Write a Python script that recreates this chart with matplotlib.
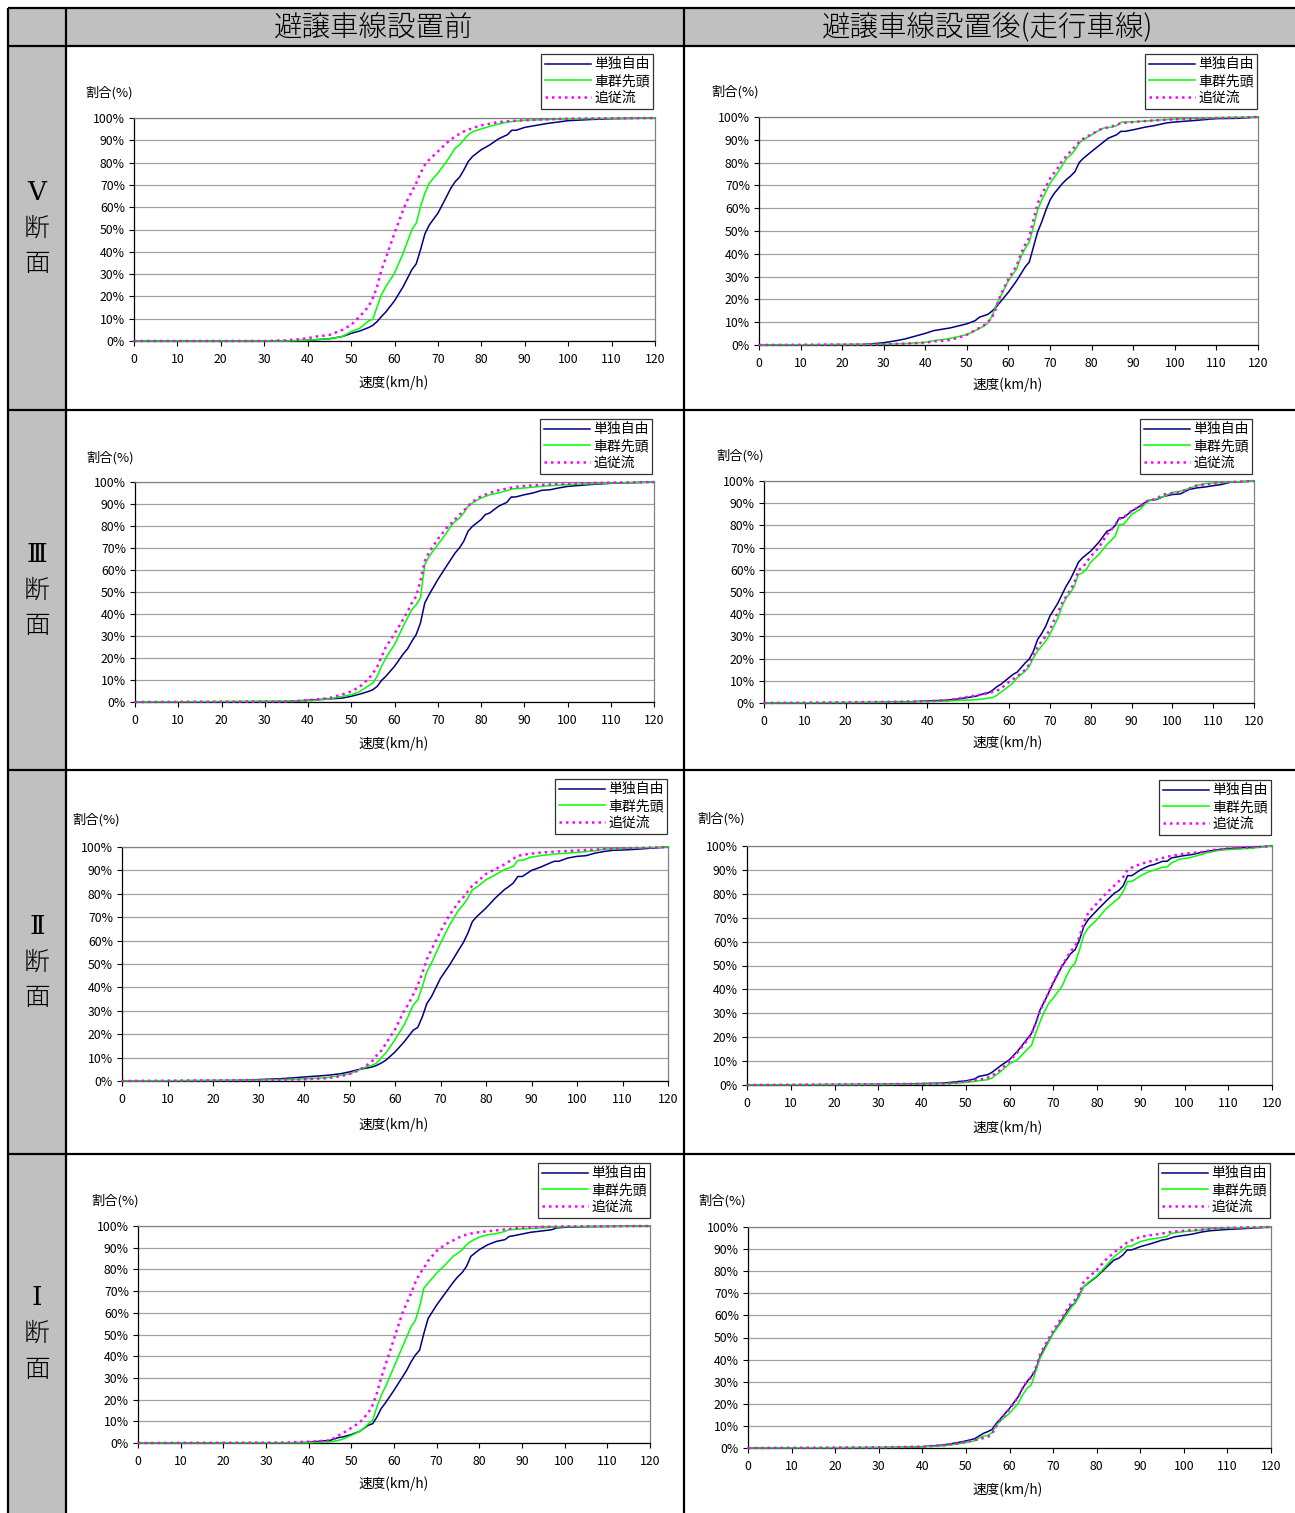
import matplotlib
matplotlib.use("Agg")
import matplotlib.pyplot as plt
from matplotlib.patches import Rectangle

plt.rcParams['font.family'] = ['Noto Sans CJK JP', 'DejaVu Sans']

# ---------------- DATA (speed km/h, cumulative share %) ----------------
series_names = ["単独自由", "車群先頭", "追従流"]
column_titles = ["避譲車線設置前", "避譲車線設置後(走行車線)"]
row_numerals = ["Ⅴ", "Ⅲ", "Ⅱ", "Ⅰ"]
row_suffix = ["断", "面"]
x_ticks = [0, 10, 20, 30, 40, 50, 60, 70, 80, 90, 100, 110, 120]
y_ticks = [0, 10, 20, 30, 40, 50, 60, 70, 80, 90, 100]
y_tick_labels = [f"{v}%" for v in y_ticks]

# V section, before
v_pre_solo_x = [0, 35, 40, 45, 48, 50, 52, 54, 55, 56, 57, 58, 60, 62, 64, 65, 66, 67, 68, 70, 72, 73, 74, 75, 76, 77, 78, 80, 82, 84, 86, 87, 88, 90, 95, 100, 105, 110, 120]
v_pre_solo_y = [0, 0, 0.3, 1, 2, 3.4, 4.5, 6, 7, 8.7, 11, 13, 18, 24.4, 32, 34.6, 41, 48, 52, 57.3, 64.8, 68.6, 71.5, 73.5, 76.8, 80.5, 82.8, 85.8, 88, 90.7, 92.5, 94.5, 94.5, 95.8, 97.5, 98.8, 99.3, 99.7, 100]
v_pre_lead_x = [0, 35, 40, 45, 48, 50, 52, 54, 55, 56, 57, 58, 60, 62, 64, 65, 66, 67, 68, 70, 72, 74, 75, 76, 77, 78, 80, 82, 84, 86, 90, 95, 100, 110, 120]
v_pre_lead_y = [0, 0, 0.4, 1, 2, 4.2, 5.7, 9, 9.7, 15.4, 20.7, 24.4, 30.4, 39.4, 49.9, 52.8, 60.3, 66.3, 70.8, 75.3, 80.5, 86.5, 88, 90.3, 92.5, 93.9, 95.1, 96.3, 97.3, 98.2, 99, 99.3, 99.6, 99.9, 100]
v_pre_follow_x = [0, 30, 35, 38, 40, 42, 45, 48, 50, 52, 54, 55, 56, 57, 58, 60, 62, 63, 64, 65, 66, 67, 68, 70, 72, 74, 76, 78, 80, 84, 88, 95, 100, 120]
v_pre_follow_y = [0, 0, 0.3, 0.8, 1.2, 2, 2.7, 5, 7.2, 11, 15.4, 19.2, 24.4, 31.9, 37.1, 48.4, 58.8, 63.3, 67, 70.8, 75.3, 79, 81.3, 85, 88.8, 91.8, 94, 95.5, 96.7, 98.2, 98.8, 99.4, 99.7, 100]

# V section, after
v_post_solo_x = [0, 25, 30, 33, 35, 38, 40, 42, 44, 46, 48, 50, 52, 53, 55, 56, 57, 58, 60, 62, 64, 65, 66, 67, 68, 69, 70, 71, 72, 73, 74, 75, 76, 77, 78, 80, 82, 84, 86, 87, 88, 90, 93, 95, 98, 100, 105, 110, 115, 120]
v_post_solo_y = [0, 0.2, 1, 1.9, 2.6, 4.1, 5.1, 6.3, 6.9, 7.5, 8.4, 9.3, 10.7, 12.2, 13.4, 14.8, 16.6, 18.8, 23.2, 28.3, 34.2, 36.4, 43, 49.6, 54, 59.2, 63.6, 66.5, 68.7, 70.9, 72.7, 74.2, 76.1, 80, 81.9, 84.9, 87.8, 90.7, 92.2, 93.7, 93.7, 94.4, 95.6, 96.2, 97.4, 97.8, 98.5, 99.3, 99.4, 100]
v_post_lead_x = [0, 30, 35, 40, 42, 45, 48, 50, 52, 54, 55, 56, 57, 58, 60, 62, 63, 64, 65, 66, 67, 68, 70, 72, 73, 74, 75, 76, 77, 78, 80, 82, 83, 85, 86, 87, 90, 95, 100, 110, 120]
v_post_lead_y = [0, 0.3, 0.6, 1.2, 1.9, 2.6, 3.7, 4.6, 6.3, 8.2, 9.5, 12.5, 17.3, 21, 28.3, 33.5, 38.6, 42.3, 45.2, 51.8, 59.2, 63.6, 70.9, 76.1, 79, 81.9, 83.4, 85.6, 88.5, 90, 92.2, 94.4, 95.2, 95.6, 96.2, 97.7, 97.9, 98.5, 99.1, 99.7, 100]
v_post_follow_x = [0, 30, 35, 40, 42, 45, 48, 50, 52, 54, 55, 56, 57, 58, 60, 62, 63, 64, 65, 66, 67, 68, 70, 72, 73, 74, 76, 77, 78, 80, 82, 84, 86, 87, 90, 95, 100, 110, 120]
v_post_follow_y = [0, 0.3, 0.6, 1.0, 1.6, 1.9, 3.2, 4.5, 6.5, 8.5, 10, 12, 16, 21.5, 29, 35, 40, 44, 47, 55, 62, 66, 73, 78, 81, 83, 87, 89, 90.5, 92.5, 94.5, 95.5, 96.5, 97.3, 97.8, 98.5, 99, 99.5, 100]

# III section, before
iii_pre_solo_x = [0, 35, 40, 45, 48, 50, 52, 54, 55, 56, 57, 58, 60, 62, 63, 64, 65, 66, 67, 68, 70, 72, 74, 75, 76, 77, 78, 80, 81, 82, 84, 86, 87, 88, 90, 92, 94, 96, 98, 100, 105, 110, 120]
iii_pre_solo_y = [0, 0.2, 0.8, 1.4, 1.8, 2.6, 3.6, 4.8, 5.6, 7.1, 9.8, 11.7, 16.2, 21.8, 24.1, 27.6, 30.6, 35.9, 45, 48.8, 55.6, 61.7, 67.7, 70, 73, 77.6, 79.8, 82.9, 85.2, 85.9, 88.9, 90.8, 93.2, 93.2, 94.2, 95, 96.2, 96.5, 97.3, 98, 98.8, 99.4, 100]
iii_pre_lead_x = [0, 40, 45, 48, 50, 52, 54, 55, 56, 57, 58, 60, 62, 63, 64, 65, 66, 67, 68, 70, 72, 73, 74, 75, 76, 77, 78, 80, 82, 84, 86, 87, 90, 95, 100, 110, 120]
iii_pre_lead_y = [0, 0.5, 1.4, 2.6, 3.3, 4.8, 7.4, 8.6, 11.7, 16.2, 20, 26.1, 34.4, 38.2, 42, 44.2, 47.3, 62.4, 66.2, 71.5, 76.8, 79.8, 82.1, 83.6, 85.9, 88.9, 90.5, 92.7, 94.2, 95, 96.1, 96.8, 97.3, 98.2, 98.8, 99.5, 100]
iii_pre_follow_x = [0, 35, 40, 45, 48, 50, 52, 54, 55, 56, 57, 58, 60, 62, 63, 64, 65, 66, 67, 68, 70, 72, 74, 76, 78, 80, 82, 84, 86, 88, 90, 95, 100, 110, 120]
iii_pre_follow_y = [0, 0.2, 0.8, 1.8, 3.5, 4.8, 7, 10.5, 13, 16, 20.5, 25, 31, 37.5, 41, 45, 48, 55, 64, 68, 74, 79, 83, 87, 91, 93.5, 95, 96.2, 97, 97.8, 98.2, 98.8, 99.2, 99.7, 100]

# III section, after
iii_post_solo_x = [0, 25, 30, 35, 40, 45, 48, 50, 52, 54, 55, 56, 57, 58, 60, 61, 62, 64, 65, 66, 67, 68, 69, 70, 71, 72, 73, 74, 75, 76, 77, 78, 80, 82, 84, 85, 86, 87, 88, 90, 92, 94, 96, 98, 100, 102, 104, 106, 108, 110, 112, 114, 117, 120]
iii_post_solo_y = [0, 0.2, 0.4, 0.5, 0.9, 1.3, 1.9, 2.5, 3.1, 4.3, 4.6, 5.8, 7.3, 8.4, 11.4, 12.9, 13.9, 18.1, 19.9, 23.4, 28.6, 31.3, 34.6, 39.1, 42.1, 45.1, 48.9, 52.6, 55.6, 59.4, 63.4, 65.4, 68.4, 72.4, 77.4, 78.1, 79.9, 83.4, 83.4, 86.4, 88.6, 91.2, 91.6, 93.1, 93.9, 94.2, 96.1, 96.9, 97.3, 97.9, 98.4, 99.4, 99.7, 100]
iii_post_lead_x = [0, 30, 40, 45, 48, 50, 52, 54, 55, 56, 57, 58, 60, 61, 62, 64, 65, 66, 67, 68, 69, 70, 71, 72, 73, 74, 75, 76, 77, 78, 79, 80, 82, 83, 84, 86, 87, 88, 89, 90, 92, 94, 96, 98, 100, 102, 104, 106, 108, 110, 115, 120]
iii_post_lead_y = [0, 0.3, 0.6, 0.9, 1.2, 1.3, 1.5, 1.9, 2.2, 2.5, 3.4, 4.9, 7.6, 9.1, 11.4, 14.4, 16.6, 20.4, 23.4, 25.6, 27.9, 30.9, 34.6, 38.4, 43.6, 47.4, 49.6, 52.6, 57.9, 58.6, 60.4, 63.4, 66.9, 69.1, 71.4, 75.1, 80.4, 80.4, 82.6, 84.9, 87.1, 90.9, 91.9, 93.1, 94.9, 95.4, 96.6, 97.9, 98.8, 99.1, 99.6, 100]
iii_post_follow_x = [0, 30, 40, 45, 48, 50, 52, 54, 55, 56, 57, 58, 60, 62, 64, 65, 66, 67, 68, 69, 70, 71, 72, 73, 74, 75, 76, 77, 78, 80, 82, 84, 85, 86, 87, 88, 90, 92, 94, 96, 98, 100, 102, 104, 106, 110, 114, 120]
iii_post_follow_y = [0, 0.5, 0.8, 1.3, 2.2, 2.8, 3.5, 4, 4.5, 5, 5.5, 6.5, 9.5, 12, 15, 17.5, 22, 25, 28, 30, 33, 37, 41, 45, 48, 51, 54, 60, 61, 66, 70, 76, 78, 80, 83, 83.5, 86.5, 88.5, 91, 92, 94, 94.5, 95, 96.5, 98, 98.8, 99.5, 100]

# II section, before
ii_pre_solo_x = [0, 25, 30, 35, 40, 42, 45, 48, 50, 52, 54, 55, 56, 57, 58, 60, 62, 64, 65, 66, 67, 68, 70, 72, 74, 75, 76, 77, 78, 80, 82, 84, 85, 86, 87, 88, 90, 92, 94, 95, 96, 98, 100, 102, 104, 106, 108, 110, 112, 115, 120]
ii_pre_solo_y = [0, 0.2, 0.6, 1, 1.7, 2, 2.4, 3.1, 3.9, 4.9, 5.6, 6, 6.7, 7.7, 8.9, 12.4, 16.7, 21.7, 22.9, 27.4, 33.1, 36, 43.9, 49.6, 56, 59.1, 63.1, 68.1, 70.3, 73.9, 78.1, 81.7, 83.1, 84.6, 87.4, 87.4, 90, 91.4, 93.1, 93.9, 93.9, 95.3, 96, 96.3, 97.4, 98.1, 98.6, 98.7, 98.9, 99.3, 100]
ii_pre_lead_x = [0, 30, 35, 40, 45, 48, 50, 52, 54, 55, 56, 57, 58, 60, 62, 63, 64, 65, 66, 67, 68, 70, 72, 74, 75, 76, 77, 78, 80, 82, 84, 86, 87, 88, 90, 92, 95, 98, 100, 104, 106, 110, 115, 120]
ii_pre_lead_y = [0, 0.4, 0.6, 0.9, 1.4, 2.4, 3.1, 4.6, 6.3, 6.7, 7.7, 10, 12, 17.7, 23.9, 28.1, 32.4, 34.6, 40.3, 46.7, 50.3, 58.9, 66.7, 73.1, 75.3, 78.1, 81.7, 82.9, 86, 88.1, 90.3, 91.7, 94.3, 94.3, 95.7, 96.3, 97, 97.4, 97.7, 98.4, 99.1, 99.4, 99.7, 100]
ii_pre_follow_x = [0, 30, 35, 40, 45, 48, 50, 52, 54, 55, 56, 57, 58, 60, 62, 63, 64, 65, 66, 67, 68, 70, 72, 74, 75, 76, 77, 78, 80, 82, 84, 86, 87, 88, 90, 92, 95, 100, 105, 110, 120]
ii_pre_follow_y = [0, 0.4, 0.5, 0.7, 1.2, 2.0, 3.0, 4.5, 7, 8.5, 11, 13, 16, 22, 30, 33, 37, 41, 46, 52, 56, 64, 71, 76.5, 78.5, 81, 83.5, 85, 88.5, 90.5, 92.5, 95, 96.2, 96.6, 97.2, 97.6, 98, 98.5, 99, 99.4, 100]

# II section, after
ii_post_solo_x = [0, 30, 35, 40, 45, 48, 50, 52, 53, 55, 56, 57, 58, 60, 62, 64, 65, 66, 67, 68, 70, 72, 74, 75, 76, 77, 78, 80, 82, 84, 85, 86, 87, 88, 90, 92, 93, 95, 96, 97, 99, 100, 102, 104, 106, 108, 110, 115, 120]
ii_post_solo_y = [0, 0.3, 0.4, 0.6, 0.8, 1.4, 1.7, 2.5, 3.6, 4.3, 5.3, 6.7, 8.1, 10.6, 14.5, 19.2, 21.5, 25.9, 31.5, 35, 42.7, 49.7, 55, 56.6, 60.8, 66.4, 69.2, 73.1, 76.8, 80.3, 81.4, 83.4, 87.6, 87.6, 90.1, 91.8, 92.2, 93.6, 93.6, 95, 95.7, 96, 96.5, 97.4, 98, 98.5, 98.9, 99.4, 100]
ii_post_lead_x = [0, 30, 40, 45, 48, 50, 52, 54, 55, 56, 57, 58, 60, 61, 62, 64, 65, 66, 67, 68, 69, 70, 72, 73, 74, 75, 76, 77, 78, 80, 82, 84, 85, 86, 87, 88, 90, 92, 93, 95, 96, 97, 99, 101, 103, 105, 108, 110, 115, 120]
ii_post_lead_y = [0, 0.2, 0.4, 0.5, 0.8, 1.1, 1.5, 2, 2.2, 2.9, 4.3, 5.7, 8.9, 9.8, 10.9, 14.8, 16.5, 21.8, 26.6, 30.8, 34.3, 36.4, 41.3, 45.5, 49, 51, 56.6, 62.9, 65.7, 69.2, 73.6, 76.8, 78.2, 81, 85.2, 85.2, 87.6, 89.4, 89.8, 91.2, 91.2, 92.9, 94.6, 95, 96, 97.1, 98.2, 98.5, 99, 100]
ii_post_follow_x = [0, 30, 40, 45, 48, 50, 52, 54, 55, 56, 57, 58, 60, 62, 64, 65, 66, 67, 68, 70, 72, 74, 75, 76, 77, 78, 80, 82, 84, 86, 87, 88, 90, 92, 94, 96, 98, 100, 104, 106, 110, 115, 120]
ii_post_follow_y = [0, 0.3, 0.5, 0.6, 1.0, 1.5, 2.0, 2.5, 3.0, 4.0, 5.0, 6.5, 10, 14, 18.5, 21, 26, 31, 35, 43, 50, 56, 58, 62, 68, 72, 76, 80, 83.5, 87, 90, 91, 92.5, 93.5, 94.5, 95.5, 96.2, 96.8, 97.5, 98.2, 99, 99.4, 100]

# I section, before
i_pre_solo_x = [0, 35, 40, 43, 45, 47, 48, 50, 52, 54, 55, 56, 57, 58, 60, 62, 63, 64, 65, 66, 67, 68, 70, 72, 74, 75, 76, 77, 78, 80, 82, 84, 86, 87, 88, 90, 92, 95, 97, 98, 100, 105, 120]
i_pre_solo_y = [0, 0.1, 0.3, 0.9, 1.2, 2.5, 2.8, 3.9, 5.4, 8.2, 8.9, 12, 15.9, 18.5, 24.3, 30.5, 33.6, 37.4, 40.5, 42.8, 50.5, 57.4, 63.6, 69, 74.4, 76.7, 78.6, 81.4, 86, 89.1, 91.4, 92.9, 93.7, 95.2, 95.5, 96.3, 97.1, 97.8, 98.3, 99.1, 99.4, 99.7, 100]
i_pre_lead_x = [0, 40, 45, 47, 48, 50, 52, 53, 54, 55, 56, 57, 58, 60, 62, 63, 64, 65, 66, 67, 68, 70, 72, 74, 75, 76, 77, 78, 80, 82, 84, 86, 87, 90, 95, 100, 120]
i_pre_lead_y = [0, 0.1, 0.5, 1.2, 1.8, 3.5, 5.4, 6.9, 8.9, 10.5, 16.6, 22, 25.9, 35.1, 44.4, 49, 53.6, 56.4, 62.9, 71.3, 73.7, 78.3, 82.1, 86.3, 87.5, 89.1, 91.4, 92.9, 94.9, 96, 96.5, 97.5, 98.3, 98.6, 99.2, 99.7, 100]
i_pre_follow_x = [0, 35, 38, 40, 42, 45, 47, 48, 50, 52, 54, 55, 56, 57, 58, 60, 62, 64, 65, 66, 67, 68, 70, 72, 74, 76, 78, 80, 84, 88, 90, 95, 100, 120]
i_pre_follow_y = [0, 0.2, 0.5, 0.6, 0.8, 1.2, 3.5, 4.5, 7, 9.5, 14, 17.5, 23, 30, 36, 48, 60, 69, 74, 78, 80.6, 84, 88.5, 91.5, 93.5, 95.5, 96.5, 97.2, 98, 98.8, 99.2, 99.6, 99.8, 100]

# I section, after
i_post_solo_x = [0, 30, 35, 40, 45, 48, 50, 52, 53, 54, 55, 56, 57, 58, 60, 62, 63, 64, 65, 66, 67, 68, 70, 72, 74, 75, 76, 77, 78, 80, 82, 84, 85, 86, 87, 88, 90, 92, 94, 95, 96, 98, 100, 102, 104, 106, 108, 110, 115, 120]
i_post_solo_y = [0, 0.2, 0.3, 0.6, 1.4, 2.4, 3.2, 4.2, 5.4, 6.6, 7.4, 8.4, 11.2, 13.4, 17.9, 23.2, 27, 30, 32.3, 35.3, 41.3, 45.1, 51.9, 57.9, 64, 65.5, 69.2, 73, 74.5, 77.5, 81.3, 85.1, 85.8, 87.3, 89.6, 89.6, 91.1, 92.2, 93.4, 94.1, 94.4, 95.6, 96.2, 96.8, 97.7, 98.3, 98.6, 98.9, 99.4, 100]
i_post_lead_x = [0, 30, 40, 45, 48, 50, 52, 53, 54, 55, 56, 57, 58, 60, 62, 63, 64, 65, 66, 67, 68, 70, 72, 74, 75, 76, 77, 78, 80, 82, 84, 85, 86, 87, 88, 90, 92, 95, 96, 97, 100, 104, 106, 110, 120]
i_post_lead_y = [0, 0.2, 0.5, 1.0, 1.8, 2.4, 3.3, 4.5, 5.4, 5.7, 6.9, 10.4, 12.4, 15.7, 20.2, 24, 27, 28.5, 34.5, 40.6, 44.3, 51.9, 57.2, 63.2, 65.5, 68.5, 73, 74.8, 77.8, 82.1, 86.6, 88.1, 89.6, 91.4, 91.4, 93.4, 94.4, 95.3, 95.6, 97.1, 97.9, 98.6, 99.2, 99.5, 100]
i_post_follow_x = [0, 30, 40, 45, 48, 50, 52, 54, 55, 56, 57, 58, 60, 62, 63, 64, 65, 66, 67, 68, 70, 72, 74, 75, 76, 77, 78, 80, 82, 84, 86, 87, 88, 90, 92, 95, 96, 98, 100, 104, 106, 110, 120]
i_post_follow_y = [0, 0.3, 0.6, 1.3, 2.0, 2.8, 3.5, 4.5, 5, 6.5, 10, 13, 17.5, 23, 27, 30, 32, 36, 42, 46, 53, 59, 65, 67, 70, 75, 77, 80.5, 85, 88.5, 91.5, 93, 94, 95.5, 96.2, 97, 97.5, 98, 98.3, 98.8, 99.3, 99.6, 100]

chart_data = [
    [[(v_pre_solo_x, v_pre_solo_y), (v_pre_lead_x, v_pre_lead_y), (v_pre_follow_x, v_pre_follow_y)],
     [(v_post_solo_x, v_post_solo_y), (v_post_lead_x, v_post_lead_y), (v_post_follow_x, v_post_follow_y)]],
    [[(iii_pre_solo_x, iii_pre_solo_y), (iii_pre_lead_x, iii_pre_lead_y), (iii_pre_follow_x, iii_pre_follow_y)],
     [(iii_post_solo_x, iii_post_solo_y), (iii_post_lead_x, iii_post_lead_y), (iii_post_follow_x, iii_post_follow_y)]],
    [[(ii_pre_solo_x, ii_pre_solo_y), (ii_pre_lead_x, ii_pre_lead_y), (ii_pre_follow_x, ii_pre_follow_y)],
     [(ii_post_solo_x, ii_post_solo_y), (ii_post_lead_x, ii_post_lead_y), (ii_post_follow_x, ii_post_follow_y)]],
    [[(i_pre_solo_x, i_pre_solo_y), (i_pre_lead_x, i_pre_lead_y), (i_pre_follow_x, i_pre_follow_y)],
     [(i_post_solo_x, i_post_solo_y), (i_post_lead_x, i_post_lead_y), (i_post_follow_x, i_post_follow_y)]],
]

# ---------------- STYLE / LAYOUT ----------------
W, H = 1295, 1513
DPI = 100
colors = ["#000080", "#00FF00", "#FF00FF"]
styles = ["-", "-", (0, (1.0, 1.6))]
widths = [1.1, 1.1, 1.8]

# (plot box x0,y0,x1,y1), (legend right, legend top), ylabel pos, xlabel pos  -- in pixels
layout = [
    [((134, 118, 655, 341), (653, 54), (109, 93), (394, 383)),
     ((759, 117, 1258, 345), (1257, 54), (735, 92), (1008, 385))],
    [((135, 482, 654, 702), (652, 419), (110, 458), (394, 744)),
     ((764, 481, 1254, 703), (1252, 419), (740, 456), (1008, 743))],
    [((122, 847, 668, 1081), (667, 779), (96, 820), (394, 1125)),
     ((747, 846, 1272, 1085), (1271, 780), (721, 819), (1008, 1128))],
    [((138, 1226, 650, 1443), (650, 1163), (115, 1201), (394, 1484)),
     ((748, 1227, 1271, 1448), (1270, 1163), (722, 1201), (1008, 1490))],
]
row_bounds = [46, 410, 770, 1154, 1513]

fig = plt.figure(figsize=(W / DPI, H / DPI), dpi=DPI)
fig.patch.set_facecolor("white")

# table background
bg = fig.add_axes([0, 0, 1, 1])
bg.set_xlim(0, W)
bg.set_ylim(H, 0)
bg.set_axis_off()
gray = "#C0C0C0"
bg.add_patch(Rectangle((8, 8), W - 8, 38, facecolor=gray, edgecolor="none"))
bg.add_patch(Rectangle((8, 46), 58, H - 46, facecolor=gray, edgecolor="none"))
lw_tab = 1.6
for yv in [8] + row_bounds[:-1]:
    bg.plot([8, W], [yv, yv], color="black", lw=lw_tab, solid_capstyle="butt")
for xv in [8, 66, 684]:
    bg.plot([xv, xv], [8, H], color="black", lw=lw_tab, solid_capstyle="butt")

bg.text(374, 27, column_titles[0], ha="center", va="center", fontsize=20.5, fontweight="light")
bg.text(988, 27, column_titles[1], ha="center", va="center", fontsize=20.5, fontweight="light")

for r in range(4):
    cy = (row_bounds[r] + row_bounds[r + 1]) / 2
    bg.text(37, cy - 36, row_numerals[r], ha="center", va="center", fontsize=19,
            family=["DejaVu Serif", "Noto Sans CJK JP"])
    bg.text(37, cy, row_suffix[0], ha="center", va="center", fontsize=18.5, fontweight="light")
    bg.text(37, cy + 36, row_suffix[1], ha="center", va="center", fontsize=18.5, fontweight="light")

for r in range(4):
    for c in range(2):
        (x0, y0, x1, y1), (lx, ly), (ylx, yly), (xlx, xly) = layout[r][c]
        ax = fig.add_axes([x0 / W, 1 - y1 / H, (x1 - x0) / W, (y1 - y0) / H])
        ax.set_xlim(0, 120)
        ax.set_ylim(0, 100)
        handles = []
        for k, (xs, ys) in enumerate(chart_data[r][c]):
            ln, = ax.plot(xs, ys, color=colors[k], linestyle=styles[k], lw=widths[k],
                          zorder=3 + (k == 2), clip_on=False)
            handles.append(ln)
        ax.set_xticks(x_ticks)
        ax.set_yticks(y_ticks)
        ax.set_yticklabels(y_tick_labels)
        ax.tick_params(axis="both", labelsize=8.8, direction="out", length=3.5, width=0.8,
                       color="black", pad=3)
        ax.tick_params(axis="x", pad=5)
        ax.grid(axis="y", color="#A0A0A0", lw=0.9)
        ax.set_axisbelow(True)
        for s in ["top", "right"]:
            ax.spines[s].set_color("#808080")
            ax.spines[s].set_linewidth(0.9)
        for s in ["left", "bottom"]:
            ax.spines[s].set_color("black")
            ax.spines[s].set_linewidth(0.9)
        fig.text(ylx / W, 1 - yly / H, "割合(%)", ha="center", va="center", fontsize=9.5)
        fig.text(xlx / W, 1 - xly / H, "速度(km/h)", ha="center", va="center", fontsize=9.8)
        leg = ax.legend(handles, series_names, loc="upper right",
                        bbox_to_anchor=(lx / W, 1 - ly / H), bbox_transform=fig.transFigure,
                        fontsize=10, frameon=True, fancybox=False, borderpad=0.25,
                        labelspacing=0.2, handlelength=3.3, handletextpad=0.25,
                        borderaxespad=0)
        leg.get_frame().set_edgecolor("black")
        leg.get_frame().set_linewidth(0.9)

fig.savefig("out.png", dpi=DPI, facecolor="white")
